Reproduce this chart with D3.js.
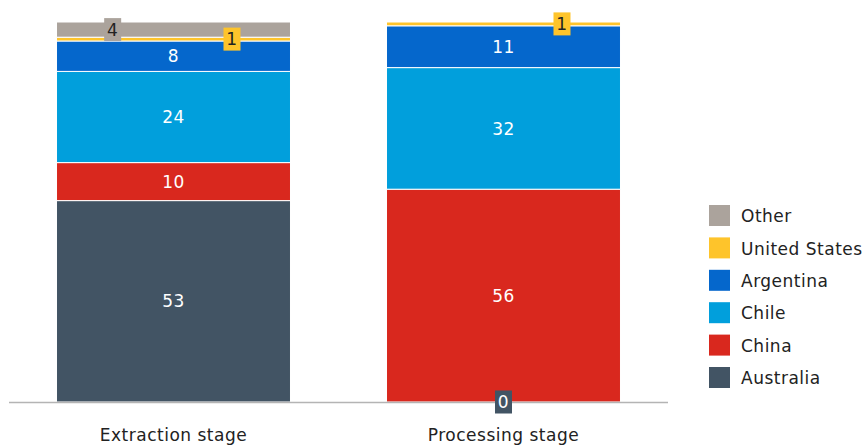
<!DOCTYPE html>
<html>
<head>
  <meta charset="UTF-8" />
  <style>
    body { margin: 0; background: #fff; font-family: "DejaVu Sans", sans-serif; }
    text { letter-spacing: 0.5px; }
  </style>
  <script src="https://d3js.org/d3.v7.min.js"></script>
</head>
<body>
  <script>
    let stages = ["Extraction stage", "Processing stage"];
    let countries = ["Australia", "China", "Chile", "Argentina", "United States", "Other"];
    let colorArray = ["#425464", "#d9281e", "#019fdc", "#0567cc", "#fec42b", "#aba39c"];
    let australia = [53, 0];
    let china = [10, 56];
    let chile = [24, 32];
    let argentina = [8, 11];
    let unitedStates = [1, 1];
    let other = [4, 0];

    let width = 864, height = 446;

    /* rows for the stack */
    let series = [australia, china, chile, argentina, unitedStates, other];
    let rows = stages.map((s, i) => {
      let row = { stage: s };
      countries.forEach((c, j) => { row[c] = series[j][i]; });
      return row;
    });
    let stacked = d3.stack().keys(countries)(rows);

    let svg = d3.select("body")
      .append("svg")
      .attr("width", width)
      .attr("height", height);

    let xScale = d3.scaleBand()
      .domain(stages)
      .range([9, 668])
      .paddingInner(0.291)
      .paddingOuter(0.144);

    let yScale = d3.scaleLinear()
      .domain([0, 100])
      .range([402, 22]);

    let colors = d3.scaleOrdinal().domain(countries).range(colorArray);

    /* bars */
    let layer = svg.append("g")
      .selectAll("g")
      .data(stacked)
      .join("g")
      .attr("fill", d => colors(d.key));

    layer.selectAll("rect")
      .data(d => d.map(v => Object.assign(v, { key: d.key })))
      .join("rect")
      .attr("x", d => xScale(d.data.stage))
      .attr("y", d => yScale(d[1]))
      .attr("width", xScale.bandwidth())
      .attr("height", d => yScale(d[0]) - yScale(d[1]))
      .attr("stroke", "#fff")
      .attr("stroke-width", d => d[1] > d[0] ? 1 : 0);

    /* baseline */
    svg.append("line")
      .attr("x1", 9).attr("x2", 668)
      .attr("y1", yScale(0) + 0.5).attr("y2", yScale(0) + 0.5)
      .attr("stroke", "#b4b4b4")
      .attr("stroke-width", 1.5);

    /* x-axis labels */
    svg.append("g")
      .selectAll("text")
      .data(stages)
      .join("text")
      .attr("x", d => xScale(d) + xScale.bandwidth() / 2)
      .attr("y", 441)
      .attr("text-anchor", "middle")
      .attr("font-size", 17)
      .attr("fill", "#222")
      .text(d => d);

    /* value labels: big values inside, small ones in boxes */
    let labels = [];
    stacked.forEach(s => s.forEach(v => {
      let value = v[1] - v[0];
      if (v.key === "Other" && value === 0) return;
      labels.push({ key: s.key, stage: v.data.stage, value: value, y0: v[0], y1: v[1] });
    }));
    let boxPos = { "Other": 0.24, "United States": 0.75, "Australia": 0.5 };

    labels.forEach(d => {
      let cy = yScale((d.y0 + d.y1) / 2);
      if (d.value >= 5) {
        svg.append("text")
          .attr("x", xScale(d.stage) + xScale.bandwidth() / 2)
          .attr("y", cy)
          .attr("dy", "0.36em")
          .attr("text-anchor", "middle")
          .attr("font-size", 17)
          .attr("fill", "#fff")
          .text(d.value);
      } else {
        let cx = xScale(d.stage) + xScale.bandwidth() * boxPos[d.key];
        let bw = 17, bh = 23;
        svg.append("rect")
          .attr("x", cx - bw / 2)
          .attr("y", cy - bh / 2)
          .attr("width", bw)
          .attr("height", bh)
          .attr("fill", colors(d.key));
        svg.append("text")
          .attr("x", cx)
          .attr("y", cy)
          .attr("dy", "0.36em")
          .attr("text-anchor", "middle")
          .attr("font-size", 17)
          .attr("fill", d.key === "Australia" ? "#fff" : "#222")
          .text(d.value);
      }
    });

    /* legend */
    let legend = svg.append("g")
      .attr("transform", "translate(709, 205)")
      .selectAll("g")
      .data(countries.slice().reverse())
      .join("g")
      .attr("transform", (d, i) => `translate(0, ${i * 32.4})`);

    legend.append("rect")
      .attr("width", 21)
      .attr("height", 21)
      .attr("fill", d => colors(d));

    legend.append("text")
      .attr("x", 32)
      .attr("y", 11)
      .attr("dy", "0.36em")
      .attr("font-size", 17)
      .attr("fill", "#222")
      .text(d => d);
  </script>
</body>
</html>
